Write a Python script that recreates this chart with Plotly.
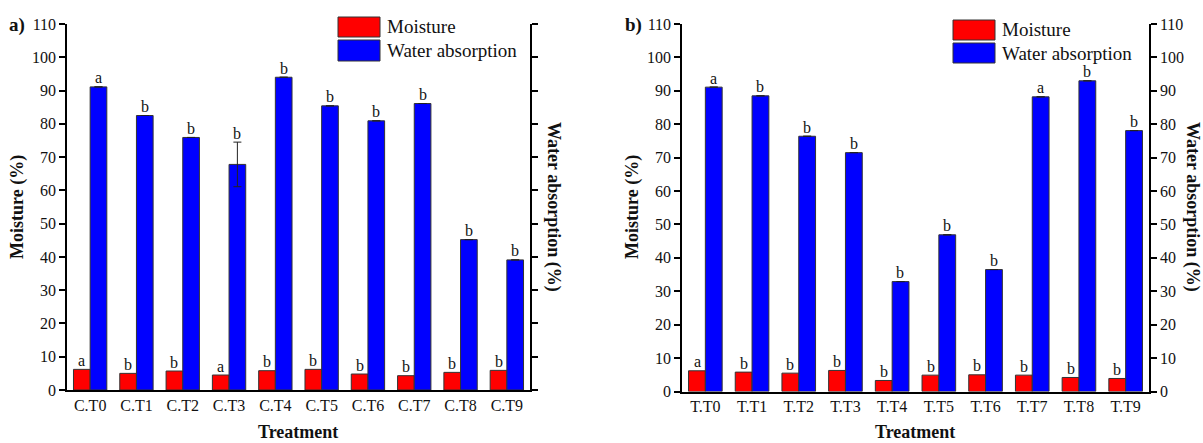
import plotly.graph_objects as go

# ---- data ----
cats_c = ["C.T0", "C.T1", "C.T2", "C.T3", "C.T4", "C.T5", "C.T6", "C.T7", "C.T8", "C.T9"]
moist_c = [6.2, 5.0, 5.7, 4.5, 5.8, 6.2, 4.8, 4.3, 5.3, 5.9]
water_c = [91.1, 82.5, 75.9, 67.8, 94.0, 85.4, 80.9, 86.1, 45.2, 39.1]
water_c_err = [None, None, None, 6.7, None, None, None, None, None, None]
moist_c_letters = ["a", "b", "b", "a", "b", "b", "b", "b", "b", "b"]
water_c_letters = ["a", "b", "b", "b", "b", "b", "b", "b", "b", "b"]

cats_t = ["T.T0", "T.T1", "T.T2", "T.T3", "T.T4", "T.T5", "T.T6", "T.T7", "T.T8", "T.T9"]
moist_t = [6.2, 5.8, 5.5, 6.3, 3.3, 4.9, 5.0, 4.9, 4.2, 3.9]
water_t = [91.1, 88.5, 76.4, 71.5, 32.9, 46.9, 36.5, 88.2, 93.0, 78.1]
moist_t_letters = ["a", "b", "b", "b", "b", "b", "b", "b", "b", "b"]
water_t_letters = ["a", "b", "b", "b", "b", "b", "b", "a", "b", "b"]

y_ticks = list(range(0, 111, 10))

# ---- style ----
FONT = "Liberation Serif, Times New Roman, serif"
RED = "#FF0000"
BLUE = "#0000FF"
EDGE = "#333333"
BW = 0.36  # width of each bar in category units
W, H = 1203, 443


def px_x(x):
    return x / W


def px_y(y):
    return 1 - y / H


fig = go.Figure()

panels = [
    dict(cats=cats_c, moist=moist_c, water=water_c, err=water_c_err,
         ml=moist_c_letters, wl=water_c_letters,
         xa="x", ya="y", ya2="y2"),
    dict(cats=cats_t, moist=moist_t, water=water_t, err=[None] * 10,
         ml=moist_t_letters, wl=water_t_letters,
         xa="x2", ya="y3", ya2="y4"),
]

annotations = []
for p in panels:
    fig.add_trace(go.Bar(
        x=p["cats"], y=p["moist"], name="Moisture",
        xaxis=p["xa"], yaxis=p["ya"], width=BW, offset=-BW,
        marker=dict(color=RED, line=dict(color=EDGE, width=1)),
        showlegend=False,
    ))
    fig.add_trace(go.Bar(
        x=p["cats"], y=p["water"], name="Water absorption",
        xaxis=p["xa"], yaxis=p["ya2"], width=BW, offset=0,
        marker=dict(color=BLUE, line=dict(color=EDGE, width=1)),
        error_y=dict(type="data", array=p["err"], color="#222222",
                     thickness=1, width=4, visible=True),
        showlegend=False,
    ))
    # significance letters above each bar
    for c, v, l in zip(p["cats"], p["moist"], p["ml"]):
        annotations.append(dict(
            x=c, y=v, xref=p["xa"], yref=p["ya"], text=l, showarrow=False,
            xshift=-BW / 2 * 46.3, yshift=9, yanchor="middle",
            font=dict(family=FONT, size=16, color="#111111")))
    for c, v, e, l in zip(p["cats"], p["water"], p["err"], p["wl"]):
        annotations.append(dict(
            x=c, y=v + (e or 0), xref=p["xa"], yref=p["ya2"], text=l,
            showarrow=False, xshift=BW / 2 * 46.3, yshift=9,
            yanchor="middle",
            font=dict(family=FONT, size=16, color="#111111")))

tick_font = dict(family=FONT, size=16, color="#111111")
axis_common = dict(showline=True, linecolor="black", linewidth=1.5,
                   showgrid=False, zeroline=False, tickfont=tick_font,
                   automargin=False)
y_common = dict(axis_common, range=[0, 110], tickvals=y_ticks,
                ticks="outside", ticklen=6, tickwidth=1.5, tickcolor="black")

dom_a = [px_y(390), px_y(24)]
dom_b = [px_y(391.5), px_y(24)]

fig.update_layout(
    width=W, height=H,
    margin=dict(l=0, r=0, t=0, b=0, pad=0),
    paper_bgcolor="white", plot_bgcolor="white",
    barmode="overlay",
    xaxis=dict(axis_common, domain=[px_x(67), px_x(530)], anchor="y",
               range=[-0.5, 9.5], ticks=""),
    yaxis=dict(y_common, domain=dom_a, anchor="x", side="left"),
    yaxis2=dict(y_common, overlaying="y", anchor="x", side="right",
                showticklabels=False),
    xaxis2=dict(axis_common, domain=[px_x(682), px_x(1149)], anchor="y3",
                range=[-0.5, 9.5], ticks=""),
    yaxis3=dict(y_common, domain=dom_b, anchor="x2", side="left"),
    yaxis4=dict(y_common, overlaying="y3", anchor="x2", side="right"),
)

title_font = dict(family=FONT, size=18, color="#111111")
label_font = dict(family=FONT, size=19, color="#111111")
legend_font = dict(family=FONT, size=19, color="#111111")

# axis titles and panel labels
for xc, txt, ang in [(18, "Moisture (%)", -90), (553, "Water absorption (%)", 90),
                     (633, "Moisture (%)", -90), (1192, "Water absorption (%)", 90)]:
    annotations.append(dict(x=px_x(xc), y=px_y(207), xref="paper", yref="paper",
                            text="<b>" + txt + "</b>", textangle=ang,
                            showarrow=False, font=title_font,
                            xanchor="center", yanchor="middle"))
for xc in [298, 915]:
    annotations.append(dict(x=px_x(xc), y=px_y(432), xref="paper", yref="paper",
                            text="<b>Treatment</b>", showarrow=False,
                            font=title_font, xanchor="center", yanchor="middle"))
for xc, txt in [(17, "a)"), (633, "b)")]:
    annotations.append(dict(x=px_x(xc), y=px_y(25), xref="paper", yref="paper",
                            text="<b>" + txt + "</b>", showarrow=False,
                            font=label_font, xanchor="center", yanchor="middle"))

# legend boxes drawn as shapes with text beside them
shapes = []
for x0, x1, ys, xt in [(338, 380, [(17, 37), (40, 61)], 385),
                       (953, 995, [(20, 40), (43, 63)], 1000)]:
    for (y0, y1), col, name in zip(ys, [RED, BLUE], ["Moisture", "Water absorption"]):
        shapes.append(dict(type="rect", xref="paper", yref="paper",
                           x0=px_x(x0), x1=px_x(x1), y0=px_y(y1), y1=px_y(y0),
                           fillcolor=col, line=dict(color=EDGE, width=1)))
        annotations.append(dict(x=px_x(xt), y=px_y((y0 + y1) / 2), xref="paper",
                                yref="paper", text=name, showarrow=False,
                                font=legend_font, xanchor="left", yanchor="middle"))

fig.update_layout(annotations=annotations, shapes=shapes)

fig.write_html("out.html")
